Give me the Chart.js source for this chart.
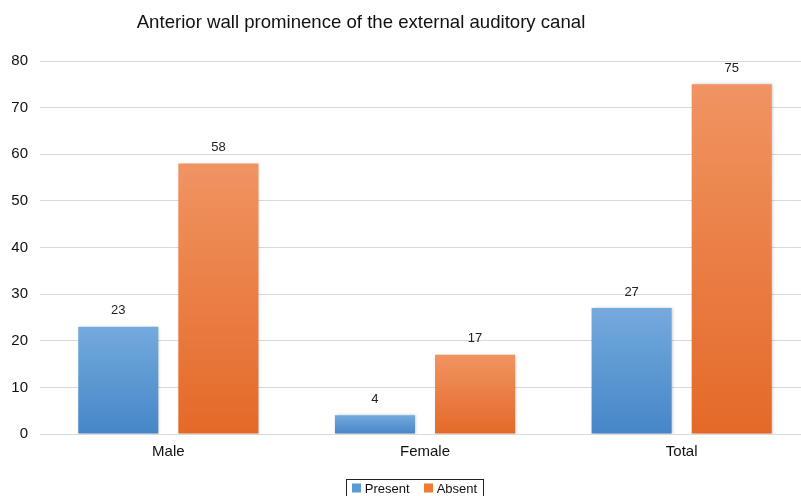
<!DOCTYPE html>
<html>
<head>
<meta charset="utf-8">
<script src="https://cdn.jsdelivr.net/npm/chart.js@4/dist/chart.umd.min.js"></script>
<style>
  html, body { margin: 0; padding: 0; background: #fff; overflow: hidden; }
  #wrap { width: 811px; height: 500px; }
</style>
</head>
<body>
<div id="wrap"><canvas id="chart" width="811" height="500"></canvas></div>
<script>
const chartTitle = 'Anterior wall prominence of the external auditory canal';
const categories = ['Male', 'Female', 'Total'];
const seriesNames = ['Present', 'Absent'];
const presentValues = [23, 4, 27];
const absentValues = [58, 17, 75];
const yMax = 80;
const yStep = 10;

const FONT = 'Liberation Sans, Arial, Helvetica, sans-serif';
const palette = {
    Present: { top: 'rgb(116,170,222)', bottom: 'rgb(70,134,199)', flat: '#5b9bd5' },
    Absent: { top: 'rgb(240,148,98)', bottom: 'rgb(228,105,40)', flat: '#ed7d31' },
};

function barGradient(name) {
    return function (context) {
        const chart = context.chart;
        const colors = palette[name];
        if (!chart.chartArea || !chart.scales.y || context.type !== 'data') {
            return colors.flat;
        }
        const y = chart.scales.y;
        const top = y.getPixelForValue(context.raw);
        const base = y.getPixelForValue(0);
        if (!isFinite(top) || Math.abs(base - top) < 1) return colors.flat;
        const g = chart.ctx.createLinearGradient(0, top, 0, base);
        g.addColorStop(0, colors.top);
        g.addColorStop(1, colors.bottom);
        return g;
    };
}

const decorations = {
    id: 'decorations',
    beforeDatasetsDraw(chart) {
        const ctx = chart.ctx;
        ctx.save();
        ctx.shadowColor = 'rgba(0,0,0,0.22)';
        ctx.shadowBlur = 3;
        ctx.shadowOffsetX = 1;
        ctx.shadowOffsetY = 0;
    },
    afterDatasetsDraw(chart) {
        const ctx = chart.ctx;
        ctx.restore();

        // value labels above the bars
        ctx.save();
        ctx.font = '13px ' + FONT;
        ctx.fillStyle = '#222';
        ctx.textAlign = 'center';
        ctx.textBaseline = 'middle';
        chart.data.datasets.forEach(function (ds, i) {
            chart.getDatasetMeta(i).data.forEach(function (bar, j) {
                ctx.fillText(String(ds.data[j]), bar.x, bar.y - 16);
            });
        });
        ctx.restore();
    },
    afterDraw(chart) {
        const ctx = chart.ctx;
        ctx.save();

        // title
        ctx.font = '18.6px ' + FONT;
        ctx.fillStyle = '#111';
        ctx.textAlign = 'center';
        ctx.textBaseline = 'middle';
        ctx.fillText(chartTitle, 361, 23);

        // boxed legend
        ctx.font = '13px ' + FONT;
        ctx.textAlign = 'left';
        const box = 9, gapBox = 4, gapItem = 14, pad = 6;
        let width = pad * 2;
        chart.data.datasets.forEach(function (ds, i) {
            width += box + gapBox + ctx.measureText(ds.label).width;
            if (i > 0) width += gapItem;
        });
        const left = 414.5 - width / 2;
        const top = 479;
        ctx.strokeStyle = '#222';
        ctx.lineWidth = 1;
        ctx.strokeRect(Math.round(left) + 0.5, top + 0.5, Math.round(width), 30);
        let x = left + pad;
        const cy = top + 9;
        chart.data.datasets.forEach(function (ds, i) {
            if (i > 0) x += gapItem;
            ctx.fillStyle = palette[ds.label].flat;
            ctx.fillRect(Math.round(x), cy - box / 2, box, box);
            x += box + gapBox;
            ctx.fillStyle = '#111';
            ctx.fillText(ds.label, x, cy + 1);
            x += ctx.measureText(ds.label).width;
        });
        ctx.restore();
    },
};

new Chart(document.getElementById('chart'), {
    type: 'bar',
    data: {
        labels: categories,
        datasets: [
            {
                label: seriesNames[0],
                data: presentValues,
                backgroundColor: barGradient('Present'),
                borderWidth: 0,
                categoryPercentage: 0.78,
                barPercentage: 0.8,
            },
            {
                label: seriesNames[1],
                data: absentValues,
                backgroundColor: barGradient('Absent'),
                borderWidth: 0,
                categoryPercentage: 0.78,
                barPercentage: 0.8,
            },
        ],
    },
    options: {
        responsive: false,
        animation: false,
        layout: { padding: { top: 61, right: 1, bottom: 36, left: 0 } },
        plugins: {
            legend: { display: false },
            title: { display: false },
            tooltip: { enabled: false },
        },
        scales: {
            x: {
                grid: { display: false, drawTicks: false },
                border: { display: false },
                ticks: { color: '#111', font: { family: FONT, size: 15 }, padding: 9 },
                afterFit: function (s) { s.height = 30; },
            },
            y: {
                min: 0,
                max: yMax,
                grid: { color: '#d9d9d9', lineWidth: 1, drawTicks: false },
                border: { display: false },
                ticks: { stepSize: yStep, color: '#111', font: { family: FONT, size: 15 }, padding: 12 },
                afterFit: function (s) { s.width = 40; },
            },
        },
    },
    plugins: [decorations],
});
</script>
</body>
</html>
